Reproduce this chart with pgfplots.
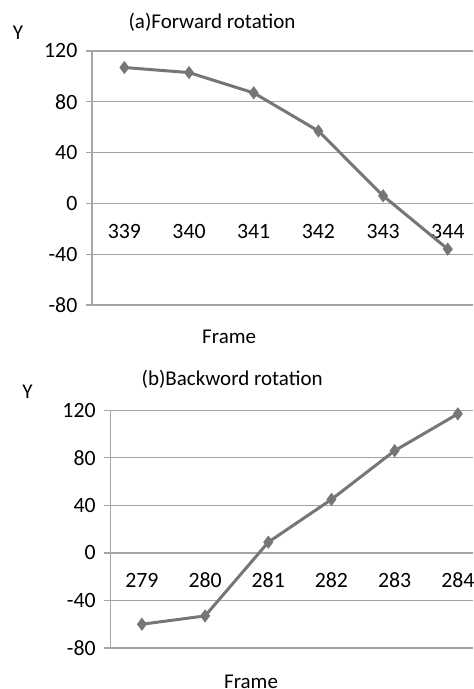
\documentclass[border=0pt]{standalone}
\usepackage{fontspec}
\setmainfont{Carlito}
\usepackage{pgfplots}
\pgfplotsset{compat=1.18}
\definecolor{gridc}{HTML}{A3A3A3}
\definecolor{axisc}{HTML}{A6A6A6}
\definecolor{linec}{HTML}{767676}
\pgfplotsset{
  excelstyle/.style={
    scale only axis,
    ymin=-80, ymax=120,
    ytick={-80,-40,0,40,80,120},
    xmin=-0.5,
    axis x line*=middle,
    axis y line*=left,
    axis line style={axisc, line width=0.6pt},
    ymajorgrids,
    grid style={gridc, line width=0.6pt},
    xtick={0,1,2,3,4,5},
    major x tick style={draw=none},
    extra x ticks={0.5,1.5,2.5,3.5,4.5,5.5},
    extra x tick labels={},
    extra x tick style={major tick length=3.5pt, tick align=outside, major x tick style={axisc, line width=0.6pt}, grid=none},
    major y tick style={axisc, line width=0.6pt},
    ytick align=outside,
    major tick length=3pt,
    tick label style={font=\fontsize{10.9}{13}\selectfont},
    /pgf/number format/assume math mode=true,
    xticklabel style={anchor=center},
    yticklabel style={anchor=east, xshift=-0.8pt},
    clip=false,
  }
}
\begin{document}
\begin{tikzpicture}
\useasboundingbox (0,0) rectangle (236.5pt,344.5pt);
\clip (0,0) rectangle (236.5pt,344.5pt);
% top axis
\begin{axis}[excelstyle,
  at={(46pt,192pt)}, anchor=south west,
  width=190.5pt, height=127pt,
  xmax=5.39,
  xticklabels={339,340,341,342,343,344},
  xticklabel style={yshift=-14.3pt},
]
\addplot[linec, line width=1.5pt, mark=diamond*, mark size=2.1pt, mark options={linec, solid}] coordinates {
(0,107) (1,103) (2,87) (3,57) (4,6) (5,-36)
};
\node[font=\fontsize{10.5}{12}\selectfont] at (axis description cs:0.315,1.114) {(a)Forward rotation};
\node[font=\fontsize{10.5}{12}\selectfont] at (axis description cs:-0.194,1.071) {Y};
\node[font=\fontsize{10.5}{12}\selectfont] at (axis description cs:0.36,-0.126) {Frame};
\end{axis}
% bottom axis
\begin{axis}[excelstyle,
  at={(55.15pt,20.5pt)}, anchor=south west,
  width=181.35pt, height=118.85pt,
  xmax=5.24,
  xticklabels={279,280,281,282,283,284},
  xticklabel style={yshift=-13.6pt},
]
\addplot[linec, line width=1.5pt, mark=diamond*, mark size=2.1pt, mark options={linec, solid}] coordinates {
(0,-60) (1,-53) (2,9) (3,45) (4,86) (5,117)
};
\node[font=\fontsize{10.5}{12}\selectfont] at (axis description cs:0.336,1.132) {(b)Backword rotation};
\node[font=\fontsize{10.5}{12}\selectfont] at (axis description cs:-0.228,1.077) {Y};
\node[font=\fontsize{10.5}{12}\selectfont] at (axis description cs:0.388,-0.143) {Frame};
\end{axis}
\end{tikzpicture}
\end{document}
